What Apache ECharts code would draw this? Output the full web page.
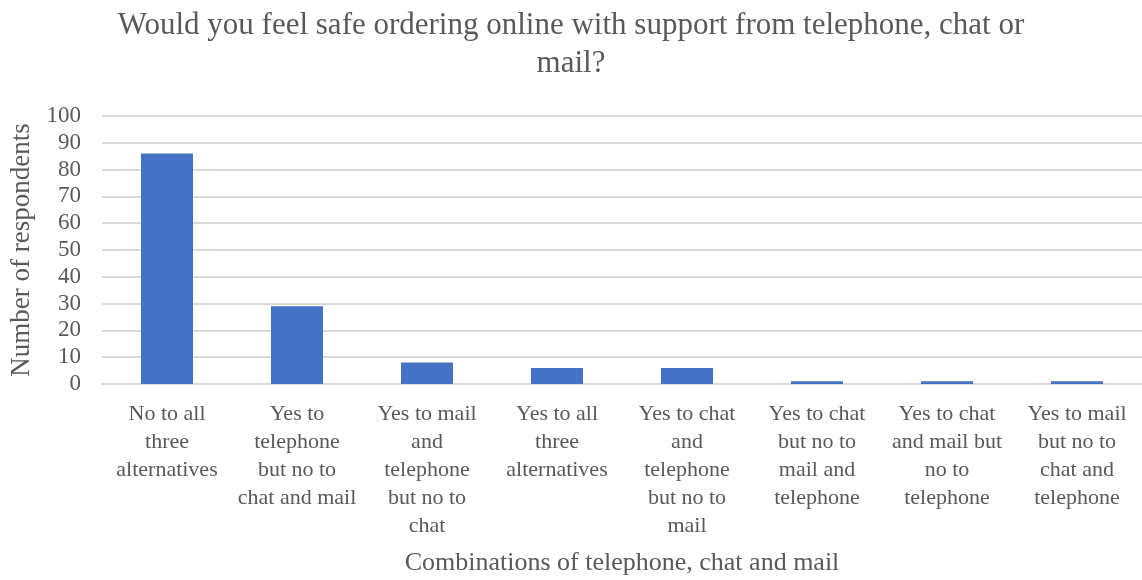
<!DOCTYPE html>
<html>
<head>
<meta charset="utf-8">
<script src="https://cdn.jsdelivr.net/npm/echarts@6/dist/echarts.min.js"></script>
<style>
html,body{margin:0;padding:0;background:#fff;}
#chart{width:1142px;height:580px;}
</style>
</head>
<body>
<div id="chart"></div>
<script>
// Survey answers: which support channels make ordering online feel safe
const categories = [
  "No to all\nthree\nalternatives",
  "Yes to\ntelephone\nbut no to\nchat and mail",
  "Yes to mail\nand\ntelephone\nbut no to\nchat",
  "Yes to all\nthree\nalternatives",
  "Yes to chat\nand\ntelephone\nbut no to\nmail",
  "Yes to chat\nbut no to\nmail and\ntelephone",
  "Yes to chat\nand mail but\nno to\ntelephone",
  "Yes to mail\nbut no to\nchat and\ntelephone"
];
const respondents = [86, 29, 8, 6, 6, 1, 1, 1];
const yTicks = [0, 10, 20, 30, 40, 50, 60, 70, 80, 90, 100];

const font = "'Liberation Serif', 'Times New Roman', serif";
const chart = echarts.init(document.getElementById('chart'));
chart.setOption({
  animation: false,
  title: {
    text: "Would you feel safe ordering online with support from telephone, chat or\nmail?",
    left: 'center',
    top: 2,
    textStyle: { fontFamily: font, fontSize: 31, fontWeight: 'normal', color: '#595959', lineHeight: 38 }
  },
  grid: { left: 102, right: 0, top: 116, bottom: 196, outerBoundsMode: 'none', containLabel: false },
  xAxis: {
    type: 'category',
    data: categories,
    name: 'Combinations of telephone, chat and mail',
    nameLocation: 'middle',
    nameGap: 166,
    nameTextStyle: { fontFamily: font, fontSize: 26, color: '#595959' },
    axisLine: { lineStyle: { color: '#d9d9d9', width: 2 } },
    axisTick: { show: false },
    axisLabel: { interval: 0, fontFamily: font, fontSize: 22, color: '#595959', lineHeight: 28, margin: 16 },
    splitLine: { show: false }
  },
  yAxis: {
    type: 'value',
    min: yTicks[0],
    max: yTicks[yTicks.length - 1],
    interval: yTicks[1] - yTicks[0],
    name: 'Number of respondents',
    nameLocation: 'middle',
    nameGap: 66,
    nameTextStyle: { fontFamily: font, fontSize: 27, color: '#595959' },
    axisLine: { show: false },
    axisTick: { show: false },
    splitLine: { lineStyle: { color: '#d9d9d9', width: 2 } },
    axisLabel: { fontFamily: font, fontSize: 23, color: '#595959', margin: 21 }
  },
  series: [{
    type: 'bar',
    data: respondents,
    barWidth: '40%',
    itemStyle: { color: '#4472c4' }
  }]
});
</script>
</body>
</html>
